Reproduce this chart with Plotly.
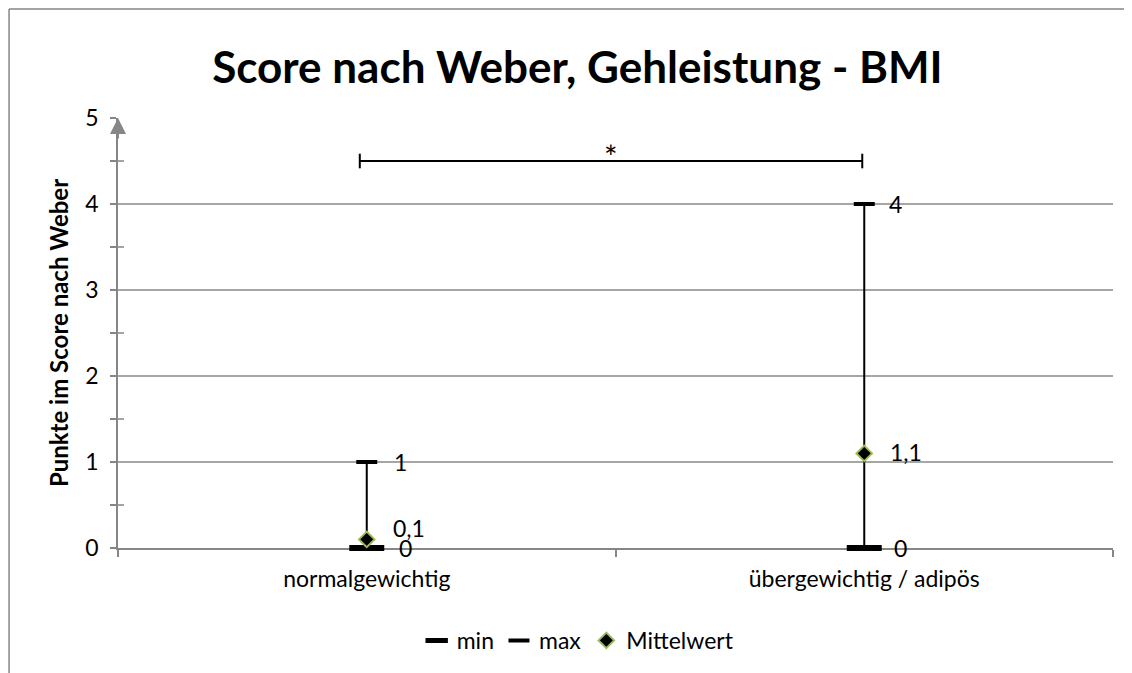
import plotly.graph_objects as go

categories = ["normalgewichtig", "übergewichtig / adipös"]
min_vals = [0, 0]
max_vals = [1, 4]
mean_vals = [0.1, 1.1]
min_labels = ["0", "0"]
max_labels = ["1", "4"]
mean_labels = ["0,1", "1,1"]
y_ticks = [0, 1, 2, 3, 4, 5]
y_minor = [0.5, 1.5, 2.5, 3.5, 4.5]

FONT = "Lato, Carlito, Calibri, sans-serif"
GRID = "#A6A6A6"
AXIS = "#868686"
LBL = 23

fig = go.Figure()

# vertical range lines min -> max
for c, lo, hi in zip(categories, min_vals, max_vals):
    fig.add_trace(go.Scatter(x=[c, c], y=[lo, hi], mode="lines",
                             line=dict(color="black", width=2),
                             showlegend=False, hoverinfo="skip", cliponaxis=False))

fig.add_trace(go.Scatter(
    x=categories, y=min_vals, name="min", mode="markers", cliponaxis=False,
    marker=dict(symbol="line-ew", size=25, color="black",
                line=dict(color="black", width=6)),
))
fig.add_trace(go.Scatter(
    x=categories, y=max_vals, name="max", mode="markers", cliponaxis=False,
    marker=dict(symbol="line-ew", size=15, color="black",
                line=dict(color="black", width=4)),
))
fig.add_trace(go.Scatter(
    x=categories, y=mean_vals, name="Mittelwert", mode="markers", cliponaxis=False,
    marker=dict(symbol="diamond", size=12, color="black",
                line=dict(color="#9BBB59", width=2)),
))

# data labels
min_shift = [(30, 0), (28, 0)]
max_shift = [(25, 0), (23, 0)]
mean_shift = [(24, 11), (24, 1)]
for labels, vals, shifts in [(min_labels, min_vals, min_shift),
                             (max_labels, max_vals, max_shift),
                             (mean_labels, mean_vals, mean_shift)]:
    for c, v, t, (dx, dy) in zip(categories, vals, labels, shifts):
        fig.add_annotation(x=c, y=v, xref="x", yref="y", text=t, showarrow=False,
                           xanchor="left", yanchor="middle", xshift=dx, yshift=dy,
                           font=dict(size=LBL, color="black", family=FONT))

# significance bracket
sig_y = 4.5
fig.add_shape(type="line", x0=-0.014, x1=0.996, y0=sig_y, y1=sig_y,
              xref="x", yref="y", line=dict(color="black", width=2))
for xx in [-0.014, 0.996]:
    fig.add_shape(type="line", x0=xx, x1=xx, y0=sig_y - 0.085, y1=sig_y + 0.085,
                  xref="x", yref="y", line=dict(color="black", width=2))
fig.add_annotation(x=0.49, y=sig_y, xref="x", yref="y", text="*",
                   showarrow=False, yshift=5,
                   font=dict(size=32, color="black", family=FONT))

# minor ticks crossing into the plot area
for v in y_minor:
    fig.add_shape(type="line", xref="paper", yref="y", xsizemode="pixel", xanchor=0,
                  x0=0, x1=6, y0=v, y1=v, line=dict(color=AXIS, width=1.5))

# arrow at top of y axis
fig.add_annotation(x=0, y=5, xref="paper", yref="y", text="", showarrow=True,
                   ax=0, ay=22, axref="pixel", ayref="pixel",
                   arrowhead=2, arrowsize=1.6, arrowwidth=2, arrowcolor=AXIS)

# outer chart border (left and top)
fig.add_shape(type="line", xref="paper", yref="paper",
              x0=-0.1095, x1=-0.1095, y0=-0.35, y1=1.2535,
              line=dict(color=AXIS, width=1.5))
fig.add_shape(type="line", xref="paper", yref="paper",
              x0=-0.1095, x1=1.04, y0=1.2535, y1=1.2535,
              line=dict(color=AXIS, width=1.5))

fig.update_layout(
    width=1132, height=673,
    margin=dict(l=110, r=27, t=110, b=133, autoexpand=False),
    paper_bgcolor="white", plot_bgcolor="white",
    font=dict(family=FONT, color="black", size=23),
    title=dict(text="<b>Score nach Weber, Gehleistung - BMI</b>",
               x=0.503, xanchor="center", y=0.912, yanchor="middle",
               font=dict(size=44, family=FONT, color="black")),
    legend=dict(orientation="h", x=0.462, xanchor="center", y=-0.165, yanchor="top",
                font=dict(size=23, family=FONT), itemwidth=30,
                tracegroupgap=0),
    showlegend=True,
)
fig.update_xaxes(
    type="category", categoryorder="array", categoryarray=categories,
    range=[-0.5, 1.5], tickson="boundaries", ticks="outside", ticklen=7,
    tickcolor=AXIS, tickwidth=1.5, showline=True, linecolor=AXIS, linewidth=1.5,
    showgrid=False, tickfont=dict(size=23, family=FONT), zeroline=False,
    automargin=False, layer="below traces", ticklabelstandoff=10,
)
fig.update_yaxes(
    range=[0, 5], tickvals=y_ticks, ticktext=[str(v) for v in y_ticks],
    ticks="outside", ticklen=6, tickcolor=AXIS, tickwidth=1.5,
    showline=True, linecolor=AXIS, linewidth=1.5,
    showgrid=True, gridcolor=GRID, gridwidth=1.5, zeroline=False,
    minor=dict(dtick=0.5, ticks="outside", ticklen=6, tickcolor=AXIS, tickwidth=1.5,
               showgrid=False),
    tickfont=dict(size=23, family=FONT), automargin=False, layer="below traces",
    ticklabelstandoff=7,
    title=dict(text="<b>Punkte im Score nach Weber</b>", standoff=10,
               font=dict(size=24, family=FONT)),
)

fig.write_html("out.html")
